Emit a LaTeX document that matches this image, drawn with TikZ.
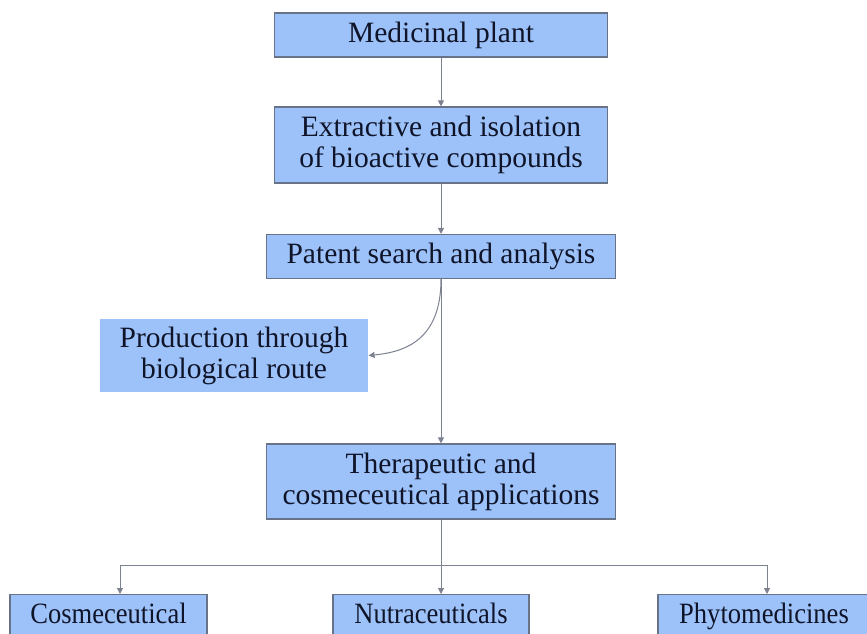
\documentclass[tikz,border=0pt]{standalone}
\usepackage{fontspec}
\setmainfont{Liberation Serif}
\usetikzlibrary{arrows.meta,calc}
\definecolor{boxfill}{RGB}{157,194,250}
\definecolor{boxline}{RGB}{105,115,135}
\definecolor{linecol}{RGB}{125,130,145}
\definecolor{txt}{RGB}{15,20,40}
\begin{document}
\begin{tikzpicture}[x=1pt,y=-1pt,
  box/.style={draw=boxline,line width=1.2pt,fill=boxfill,text=txt,align=center,
    inner sep=0pt,font=\fontsize{29.5}{31}\selectfont},
  plainbox/.style={box,draw=none},
  botbox/.style={box,minimum height=44pt,text height=20pt,text depth=7pt},
  conn/.style={draw=linecol,line width=1pt},
  arr/.style={conn,-{Triangle[width=6pt,length=6pt]}}]
\useasboundingbox (0,0) rectangle (867,633);
\fill[white] (0,0) rectangle (867,633);
\node[box,minimum width=333pt,minimum height=44pt] (plant) at (441,35) {Medicinal plant};
\node[box,minimum width=333pt,minimum height=76pt] (extract) at (441,145) {Extractive and isolation\\of bioactive compounds};
\node[box,minimum width=349pt,minimum height=44pt] (patent) at (441,256.5) {Patent search and analysis};
\node[plainbox,minimum width=268pt,minimum height=73pt] (prod) at (234,355.5) {Production through\\biological route};
\node[box,minimum width=349pt,minimum height=75pt] (thera) at (441,481.5) {Therapeutic and\\cosmeceutical applications};
\node[botbox,minimum width=197pt,anchor=north] (cosm) at (108.5,594) {\scalebox{0.9}[1]{Cosmeceutical}};
\node[botbox,minimum width=196pt,anchor=north] (nutra) at (431,594) {\scalebox{0.9}[1]{Nutraceuticals}};
\node[botbox,minimum width=212pt,anchor=north] (phyto) at (764,594) {\scalebox{0.9}[1]{Phytomedicines}};
\draw[arr] (plant.south) -- (extract.north);
\draw[arr] (extract.south) -- (extract.south |- patent.north);
\draw[arr] (patent.south) -- (patent.south |- thera.north);
\draw[arr] (patent.south) .. controls (441,340) and (405,352) .. (prod.east);
\coordinate (b) at (441,565);
\coordinate (bl) at (120,565);
\coordinate (br) at (767,565);
\draw[conn] (thera.south) -- (b);
\draw[conn] (bl) -- (br);
\draw[arr] (b) -- (b |- nutra.north);
\draw[arr] (bl) -- (bl |- cosm.north);
\draw[arr] (br) -- (br |- phyto.north);
\end{tikzpicture}
\end{document}
